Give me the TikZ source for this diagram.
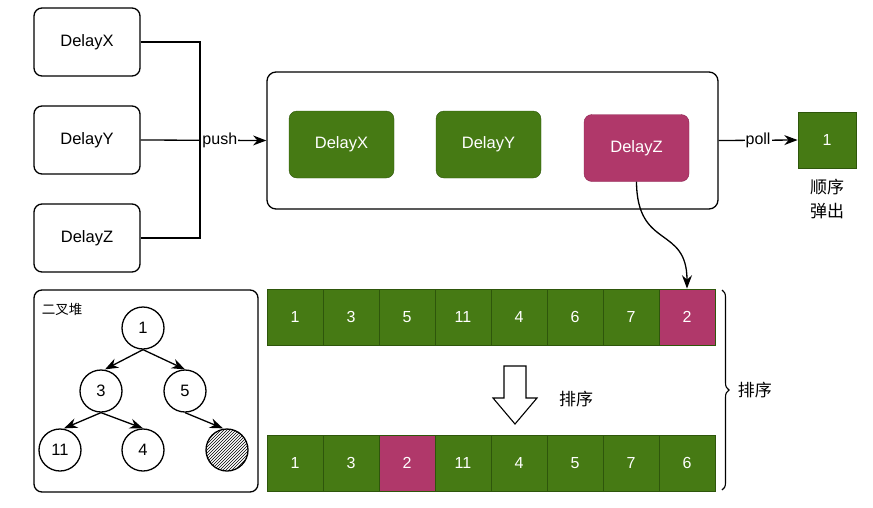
\documentclass[tikz,border=0pt]{standalone}
\usepackage{fontspec}
\setmainfont{Liberation Sans}
\newfontfamily\cjk{Noto Sans CJK SC}
\usepackage{tikz}
\usetikzlibrary{arrows,arrows.meta,patterns,decorations.pathreplacing}
\definecolor{qgreen}{HTML}{467A14}
\definecolor{qgreend}{HTML}{2E560B}
\definecolor{qpink}{HTML}{B0386A}
\definecolor{qpinkd}{HTML}{8C2350}
\tikzset{
	task/.style={draw, rounded corners=8pt, line width=1.3pt, minimum width=106pt, minimum height=68pt, font=\fontsize{16.5}{18}\selectfont},
	greenbox/.style={draw=qgreend, fill=qgreen, text=white, rounded corners=8pt, minimum width=105pt, minimum height=67pt, font=\fontsize{16.5}{18}\selectfont},
	pinkbox/.style={draw=qpinkd, fill=qpink, text=white, rounded corners=8pt, minimum width=105pt, minimum height=67pt, font=\fontsize{16.5}{18}\selectfont},
	cell/.style={draw=qgreend, line width=0.9pt, text=white, minimum width=56pt, minimum height=56pt, inner sep=0pt, font=\fontsize{16}{18}\selectfont},
	heap/.style={draw, circle, line width=1.3pt, minimum size=42pt, inner sep=0pt, font=\fontsize{16.5}{18}\selectfont},
	lbl/.style={fill=white, inner sep=1pt, font=\fontsize{16}{18}\selectfont},
	link/.style={line width=1.3pt, arrows={-Stealth[scale=1.5]}},
}
\begin{document}
\begin{tikzpicture}[x=1pt, y=-1pt]
		\useasboundingbox (0,0) rectangle (873,507);
		%定义任务与队列
		\node (X) [task] at (87,42) {DelayX};
		\node (Y) [task] at (87,140) {DelayY};
		\node (Z) [task] at (87,238) {DelayZ};
		\node (Q) [draw, rounded corners=9pt, line width=1.3pt, minimum width=451pt, minimum height=137pt] at (492.5,140.5) {};
		\node (QX) [greenbox] at (341.5,144.5) {DelayX};
		\node (QY) [greenbox] at (488.5,144.5) {DelayY};
		\node (QZ) [pinkbox] at (636.5,148) {DelayZ};
		\node (out) [cell, fill=qgreen, minimum width=58pt] at (827,140) {1};
		\node (outtxt) [below of=out, node distance=59pt, align=center, font=\cjk\fontsize{17}{24}\selectfont] {顺序\\弹出};
		\coordinate (J) at (200,140);
		
		%二叉堆
		\node (H) [draw, rounded corners=8pt, line width=1.3pt, minimum width=224pt, minimum height=202pt] at (146,391) {};
		\node (Htxt) [font=\cjk\fontsize{13.5}{15}\selectfont] at (62,309) {二叉堆};
		\node (t1) [heap] at (143,328) {1};
		\node (t3) [heap] at (101,391) {3};
		\node (t5) [heap] at (185,391) {5};
		\node (t11) [heap] at (60,450) {11};
		\node (t4) [heap] at (143,450) {4};
		\node (t2) [heap, pattern=north east lines] at (227,450) {};
		
		%数组
		\foreach \v/\c [count=\i] in {1/qgreen,3/qgreen,5/qgreen,11/qgreen,4/qgreen,6/qgreen,7/qgreen,2/qpink}
			\node (a\i) [cell, fill=\c] at (239+56*\i,317) {\v};
		\foreach \v/\c [count=\i] in {1/qgreen,3/qgreen,2/qpink,11/qgreen,4/qgreen,5/qgreen,7/qgreen,6/qgreen}
			\node (b\i) [cell, fill=\c] at (239+56*\i,463) {\v};
		\node (srt) [font=\cjk\fontsize{17}{20}\selectfont] at (576,399) {排序};
		\draw[line width=1.1pt] (504,366) -- (526,366) -- (526,398) -- (537,398) -- (515,424) -- (493,398) -- (504,398) -- cycle;
		\draw[decorate, decoration={brace, amplitude=7pt}, line width=1.1pt] (722,290) -- (722,490) node[midway, right=12pt, font=\cjk\fontsize{17}{20}\selectfont] (srt2) {排序};
		
		%连接具体形状
		\draw[line width=1.3pt] (X.east) -| (J);
		\draw[line width=1.3pt] (Z.east) -| (J);
		\draw[link] (Y.east) -- (Q.west) node[lbl, pos=0.63] {push};
		\draw[link] (Q.east) -- (out.west) node[lbl, midway] {poll};
		\draw[link] (QZ.south) .. controls (637,250) and (687,225) .. (a8.north);
		\draw[link] (t1.south) -- ([xshift=4pt]t3.north);
		\draw[link] (t1.south) -- (t5.north);
		\draw[link] (t3.south) -- ([xshift=4pt]t11.north);
		\draw[link] (t3.south) -- (t4.north);
		\draw[link] (t5.south) -- ([xshift=-4pt]t2.north);
	\end{tikzpicture}
\end{document}
